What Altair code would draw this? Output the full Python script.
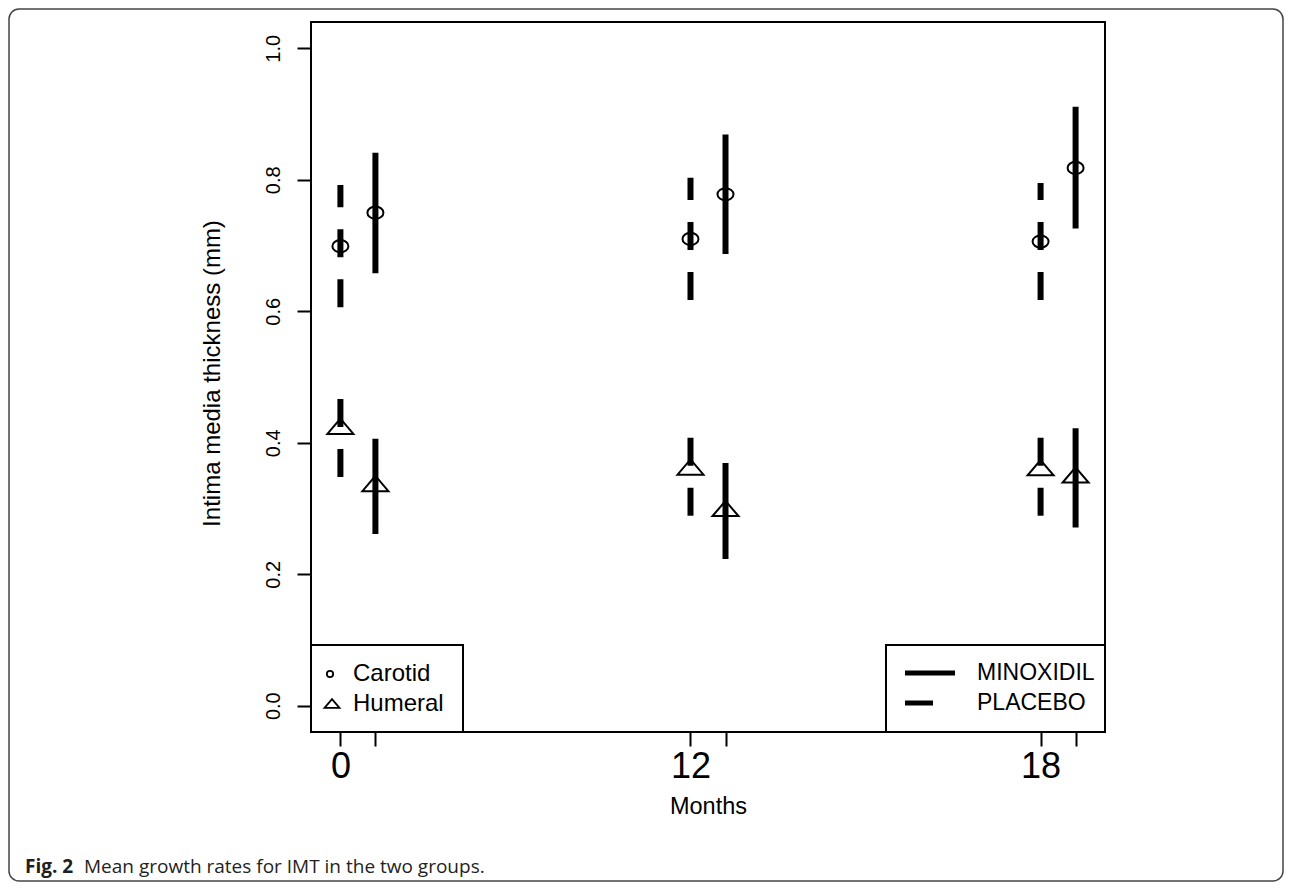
import json
import altair as alt
import pandas as pd

# ---- data ----
months = ["0", "12", "18"]
sites = ["Carotid", "Humeral"]
groups = ["MINOXIDIL", "PLACEBO"]

row_month = ["0", "0", "0", "0", "12", "12", "12", "12", "18", "18", "18", "18"]
row_group = ["PLACEBO", "MINOXIDIL", "PLACEBO", "MINOXIDIL"] * 3
row_site = ["Carotid", "Carotid", "Humeral", "Humeral"] * 3
mean_imt = [0.699, 0.750, 0.421, 0.334, 0.710, 0.778, 0.359, 0.296, 0.706, 0.818, 0.358, 0.347]
low_imt = [0.606, 0.658, 0.348, 0.261, 0.617, 0.687, 0.289, 0.223, 0.617, 0.726, 0.289, 0.271]
high_imt = [0.792, 0.841, 0.495, 0.406, 0.803, 0.869, 0.429, 0.369, 0.795, 0.911, 0.427, 0.422]

y_ticks = [0.0, 0.2, 0.4, 0.6, 0.8, 1.0]
caption_bold = "Fig. 2"
caption_rest = "Mean growth rates for IMT in the two groups."

df = pd.DataFrame({
    "month": row_month, "group": row_group, "site": row_site,
    "mean": mean_imt, "low": low_imt, "high": high_imt,
})

W, H = 794, 710
FONT = "Liberation Sans"

xpos_expr = (f"indexof({json.dumps(months)}, datum.month) + 1 + "
             "(datum.group === 'MINOXIDIL' ? 0.1 : 0)")
month_js = json.dumps(months).replace('"', "'")
xscale = alt.Scale(domain=[0.916, 3.184], nice=False, zero=False)
yscale = alt.Scale(domain=[-0.04, 1.04], nice=False, zero=False)

xaxis = alt.Axis(
    values=[1, 1.1, 2, 2.1, 3, 3.1],
    labelExpr=f"abs(datum.value - round(datum.value)) < 0.01 ? {month_js}[round(datum.value) - 1] : ''",
    labelFontSize=36, labelFont=FONT, labelColor="black", labelPadding=3,
    labelFlush=False, labelOverlap=False, labelBound=False,
    tickSize=14, tickWidth=2, tickColor="black", domain=False, grid=False,
    titleFont=FONT, titleFontSize=23.5, titleFontWeight="normal", titleColor="black",
    titleX=W / 2, titleY=74, titleAlign="center", titleBaseline="middle",
)
yaxis = alt.Axis(
    values=y_ticks, format=".1f",
    labelAngle=270, labelAlign="center", labelBaseline="bottom",
    labelFontSize=20, labelFont=FONT, labelColor="black", labelPadding=14,
    labelFlush=False, labelOverlap=False, labelBound=False,
    tickSize=14, tickWidth=2, tickColor="black", domain=False, grid=False,
    titleFont=FONT, titleFontSize=24, titleFontWeight="normal", titleColor="black",
    titleAngle=270, titleX=-99, titleY=H / 2 - 4, titleAlign="center", titleBaseline="middle",
)

base = alt.Chart(df).transform_calculate(xpos=xpos_expr)

rules = base.mark_rule(strokeWidth=6, color="black", strokeCap="butt").encode(
    x=alt.X("xpos:Q", scale=xscale, axis=xaxis, title="Months"),
    y=alt.Y("low:Q", scale=yscale, axis=yaxis, title="Intima media thickness (mm)"),
    y2="high:Q",
    strokeDash=alt.StrokeDash("group:N", scale=alt.Scale(domain=groups, range=[[1, 0], [28, 22]]),
                              legend=None),
)

ellipse = "M-1,0A1,0.76,0,1,0,1,0A1,0.76,0,1,0,-1,0Z"
tri = "M0,-0.79L1,0.385L-1,0.385Z"

pts_c = base.transform_filter(f"datum.site === '{sites[0]}'").mark_point(
    shape=ellipse, size=256, filled=False, color="black", strokeWidth=2, opacity=1
).encode(x=alt.X("xpos:Q", scale=xscale), y=alt.Y("mean:Q", scale=yscale))
pts_h = base.transform_filter(f"datum.site === '{sites[1]}'").mark_point(
    shape=tri, size=676, filled=False, color="black", strokeWidth=2, opacity=1
).encode(x=alt.X("xpos:Q", scale=xscale), y=alt.Y("mean:Q", scale=yscale))

one = pd.DataFrame({"k": [0]})

def deco():
    return alt.Chart(one)

# figure frame
frame = deco().mark_rect(fill="white", fillOpacity=0, stroke="#444444", strokeWidth=1.5,
                         cornerRadius=10).encode(
    x=alt.value(-302), x2=alt.value(972), y=alt.value(-13), y2=alt.value(859))

# caption
cap1 = deco().mark_text(text=caption_bold, font="Open Sans", fontSize=19, fontWeight="bold",
                        align="left", baseline="middle", color="#231f20").encode(
    x=alt.value(-286), y=alt.value(845))
cap2 = deco().mark_text(text=caption_rest, font="Open Sans", fontSize=19,
                        align="left", baseline="middle", color="#231f20").encode(
    x=alt.value(-227), y=alt.value(845))

# legend: sites (bottom-left)
lbox1 = deco().mark_rect(fill="white", stroke="black", strokeWidth=2).encode(
    x=alt.value(0), x2=alt.value(152), y=alt.value(623), y2=alt.value(710))
lsym1 = deco().mark_point(shape="circle", size=40, filled=False, color="black",
                          strokeWidth=1.8, opacity=1).encode(x=alt.value(19), y=alt.value(652))
lsym2 = deco().mark_point(shape=tri, size=225, filled=False, color="black",
                          strokeWidth=1.8, opacity=1).encode(x=alt.value(21), y=alt.value(683))
ltxt1 = deco().mark_text(text=sites[0], font=FONT, fontSize=24, align="left",
                         baseline="middle", color="black").encode(x=alt.value(42), y=alt.value(652))
ltxt2 = deco().mark_text(text=sites[1], font=FONT, fontSize=24, align="left",
                         baseline="middle", color="black").encode(x=alt.value(42), y=alt.value(682))

# legend: groups (bottom-right)
lbox2 = deco().mark_rect(fill="white", stroke="black", strokeWidth=2).encode(
    x=alt.value(575), x2=alt.value(794), y=alt.value(623), y2=alt.value(710))
lline1 = deco().mark_rule(strokeWidth=5, color="black", strokeCap="butt").encode(
    x=alt.value(594), x2=alt.value(644), y=alt.value(651))
lline2 = deco().mark_rule(strokeWidth=5, color="black", strokeCap="butt",
                          strokeDash=[28, 22]).encode(
    x=alt.value(594), x2=alt.value(644), y=alt.value(681))
ltxt3 = deco().mark_text(text=groups[0], font=FONT, fontSize=23, align="left",
                         baseline="middle", color="black").encode(x=alt.value(666), y=alt.value(651))
ltxt4 = deco().mark_text(text=groups[1], font=FONT, fontSize=23, align="left",
                         baseline="middle", color="black").encode(x=alt.value(666), y=alt.value(681))

chart = alt.layer(
    frame, rules, pts_c, pts_h,
    lbox1, lsym1, lsym2, ltxt1, ltxt2,
    lbox2, lline1, lline2, ltxt3, ltxt4,
    cap1, cap2,
).properties(
    width=W, height=H,
    autosize=alt.AutoSizeParams(type="none"),
    padding={"left": 303, "top": 14, "right": 179, "bottom": 150},
    background="white",
).configure_view(stroke="black", strokeWidth=2)

chart.save("out.html", embed_options={"renderer": "svg", "actions": False})
